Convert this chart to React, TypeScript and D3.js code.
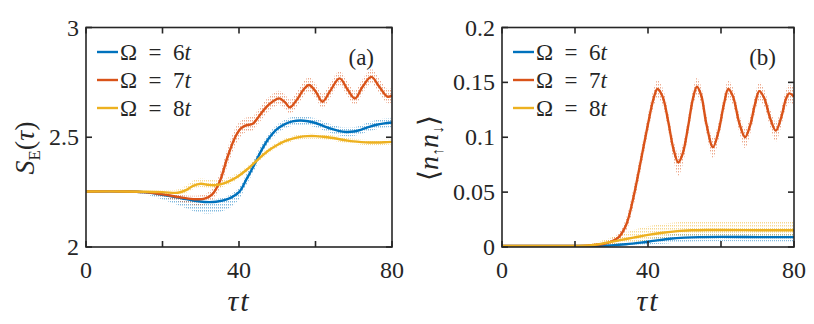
import React from "react";
import * as d3 from "d3";

const W = 814;
const H = 324;

const seriesNames = ["6", "7", "8"];
const seriesColors = ["#0072BD", "#D95319", "#EDB120"];

const xTicks = [0, 20, 40, 60, 80];
const xTickLabels = ["0", "", "40", "", "80"];
const yTicksA = [2, 2.5, 3];
const yTickLabelsA = ["2", "2.5", "3"];
const yTicksB = [0, 0.05, 0.1, 0.15, 0.2];
const yTickLabelsB = ["0", "0.05", "0.1", "0.15", "0.2"];

// [τt, mean, spread below, spread above]
const seOmega6: number[][] = [
  [0, 2.253, 0.002, 0.002], [10, 2.253, 0.003, 0.002], [15, 2.25, 0.008, 0.003],
  [20, 2.238, 0.022, 0.006], [25, 2.222, 0.038, 0.01], [28, 2.212, 0.048, 0.012],
  [31, 2.205, 0.052, 0.012], [34, 2.206, 0.05, 0.012], [37, 2.218, 0.045, 0.014],
  [40, 2.25, 0.032, 0.02], [42, 2.31, 0.025, 0.025], [44, 2.375, 0.025, 0.025],
  [46, 2.445, 0.025, 0.025], [48, 2.5, 0.022, 0.022], [50, 2.538, 0.02, 0.02],
  [52, 2.56, 0.02, 0.02], [54, 2.572, 0.02, 0.02], [56, 2.576, 0.02, 0.02],
  [58, 2.573, 0.02, 0.02], [60, 2.565, 0.02, 0.02], [62, 2.552, 0.02, 0.02],
  [64, 2.539, 0.02, 0.02], [66, 2.529, 0.02, 0.02], [68, 2.524, 0.02, 0.02],
  [70, 2.526, 0.02, 0.02], [72, 2.535, 0.02, 0.02], [74, 2.547, 0.02, 0.022],
  [76, 2.557, 0.02, 0.022], [78, 2.563, 0.02, 0.022], [80, 2.567, 0.02, 0.022],
];
const seOmega7: number[][] = [
  [0, 2.253, 0.002, 0.002], [10, 2.253, 0.003, 0.003], [15, 2.25, 0.006, 0.004],
  [20, 2.24, 0.012, 0.008], [24, 2.228, 0.02, 0.012], [28, 2.218, 0.025, 0.015],
  [31, 2.22, 0.028, 0.02], [33, 2.24, 0.03, 0.025], [35, 2.3, 0.035, 0.035],
  [37, 2.41, 0.04, 0.04], [39, 2.5, 0.04, 0.04], [40.5, 2.54, 0.035, 0.035],
  [42, 2.555, 0.03, 0.035], [43.5, 2.56, 0.03, 0.035], [45, 2.59, 0.03, 0.035],
  [47, 2.635, 0.03, 0.035], [49, 2.665, 0.03, 0.035], [50.5, 2.677, 0.03, 0.035],
  [52, 2.66, 0.03, 0.035], [53.3, 2.636, 0.03, 0.035], [55, 2.668, 0.03, 0.035],
  [57, 2.72, 0.03, 0.035], [58.3, 2.738, 0.03, 0.035], [60, 2.71, 0.03, 0.035],
  [61.8, 2.662, 0.03, 0.035], [63.8, 2.71, 0.03, 0.035], [66.3, 2.768, 0.03, 0.035],
  [68.3, 2.72, 0.03, 0.035], [70.3, 2.677, 0.03, 0.035], [72.3, 2.73, 0.03, 0.035],
  [74.6, 2.775, 0.03, 0.035], [76.7, 2.73, 0.03, 0.035], [78.8, 2.685, 0.03, 0.035],
  [80, 2.69, 0.03, 0.035],
];
const seOmega8: number[][] = [
  [0, 2.253, 0.002, 0.002], [10, 2.253, 0.003, 0.003], [20, 2.25, 0.006, 0.008],
  [24, 2.247, 0.01, 0.015], [26, 2.258, 0.012, 0.02], [28, 2.278, 0.015, 0.025],
  [30, 2.288, 0.015, 0.025], [32, 2.283, 0.015, 0.025], [34, 2.282, 0.015, 0.022],
  [36, 2.29, 0.015, 0.02], [38, 2.305, 0.015, 0.018], [40, 2.325, 0.012, 0.015],
  [42, 2.352, 0.012, 0.012], [44, 2.383, 0.012, 0.012], [46, 2.415, 0.012, 0.012],
  [48, 2.443, 0.012, 0.012], [50, 2.465, 0.012, 0.012], [52, 2.482, 0.012, 0.012],
  [54, 2.494, 0.012, 0.012], [56, 2.502, 0.012, 0.012], [58, 2.505, 0.012, 0.012],
  [60, 2.505, 0.012, 0.012], [62, 2.502, 0.012, 0.012], [64, 2.498, 0.012, 0.012],
  [66, 2.492, 0.012, 0.012], [68, 2.486, 0.012, 0.012], [70, 2.481, 0.012, 0.012],
  [72, 2.478, 0.012, 0.012], [74, 2.476, 0.012, 0.012], [76, 2.476, 0.012, 0.012],
  [78, 2.477, 0.012, 0.012], [80, 2.479, 0.012, 0.012],
];

const dOmega6: number[][] = [
  [0, 0.001, 0.0005, 0.0005], [26, 0.001, 0.0005, 0.0005], [30, 0.0015, 0.001, 0.001],
  [34, 0.0025, 0.0015, 0.0015], [38, 0.004, 0.002, 0.002], [42, 0.0058, 0.003, 0.003],
  [46, 0.0075, 0.004, 0.004], [50, 0.0085, 0.004, 0.004], [54, 0.009, 0.004, 0.004],
  [60, 0.0092, 0.004, 0.004], [70, 0.009, 0.004, 0.004], [80, 0.009, 0.004, 0.004],
];
const dOmega7: number[][] = [
  [0, 0.001, 0.0005, 0.0005], [20, 0.001, 0.0005, 0.0005], [24, 0.0015, 0.001, 0.001],
  [28, 0.003, 0.002, 0.002], [30, 0.005, 0.003, 0.003], [32, 0.009, 0.004, 0.004],
  [34, 0.02, 0.006, 0.006], [36, 0.045, 0.008, 0.008], [38, 0.078, 0.008, 0.008],
  [40, 0.112, 0.008, 0.008], [41.5, 0.135, 0.008, 0.008], [42.6, 0.144, 0.008, 0.008],
  [44, 0.137, 0.008, 0.008], [45.5, 0.115, 0.008, 0.008], [47, 0.089, 0.01, 0.008],
  [48.3, 0.077, 0.012, 0.008], [49.5, 0.085, 0.01, 0.008], [51, 0.11, 0.008, 0.008],
  [52.3, 0.135, 0.008, 0.008], [53.4, 0.146, 0.008, 0.008], [54.6, 0.138, 0.008, 0.008],
  [56, 0.112, 0.008, 0.008], [57.8, 0.091, 0.01, 0.008], [59.3, 0.105, 0.008, 0.008],
  [60.8, 0.13, 0.008, 0.008], [62, 0.144, 0.008, 0.008], [63.3, 0.137, 0.008, 0.008],
  [65, 0.113, 0.008, 0.008], [66.6, 0.1, 0.01, 0.008], [68, 0.111, 0.008, 0.008],
  [69.3, 0.13, 0.008, 0.008], [70.5, 0.142, 0.008, 0.008], [71.8, 0.136, 0.008, 0.008],
  [73.5, 0.117, 0.008, 0.008], [75, 0.106, 0.01, 0.008], [76.5, 0.118, 0.008, 0.008],
  [77.8, 0.135, 0.008, 0.008], [78.7, 0.14, 0.008, 0.008], [80, 0.137, 0.008, 0.008],
];
const dOmega8: number[][] = [
  [0, 0.001, 0.0005, 0.0005], [20, 0.001, 0.0005, 0.0005], [24, 0.0015, 0.001, 0.001],
  [28, 0.0035, 0.002, 0.003], [32, 0.006, 0.003, 0.005], [36, 0.0085, 0.004, 0.007],
  [40, 0.011, 0.005, 0.008], [44, 0.013, 0.005, 0.008], [48, 0.0145, 0.005, 0.008],
  [52, 0.0152, 0.005, 0.008], [56, 0.0155, 0.005, 0.008], [60, 0.0155, 0.005, 0.008],
  [70, 0.0153, 0.005, 0.008], [80, 0.0152, 0.005, 0.008],
];

const AXIS = "#262626";
const FONT = '"Liberation Serif"';

type PanelProps = {
  id: string;
  left: number;
  right: number;
  top: number;
  bottom: number;
  yDomain: [number, number];
  yTicks: number[];
  yTickLabels: string[];
  data: number[][][];
  tag: string;
  yLabel: React.ReactNode;
  yLabelX: number;
  yLabelY: number;
  legendX: number;
};

function Panel(p: PanelProps) {
  const x = d3.scaleLinear().domain([0, 80]).range([p.left, p.right]);
  const y = d3.scaleLinear().domain(p.yDomain).range([p.bottom, p.top]);
  const line = d3
    .line<number[]>()
    .x((d) => x(d[0]))
    .y((d) => y(d[1]))
    .curve(d3.curveCatmullRom.alpha(0.5));
  const area = d3
    .area<number[]>()
    .x((d) => x(d[0]))
    .y0((d) => y(d[1] - d[2]))
    .y1((d) => y(d[1] + d[3]))
    .curve(d3.curveCatmullRom.alpha(0.5));
  const tl = 6;
  const ts = { fontFamily: FONT };
  return (
    <g>
      <defs>
        <clipPath id={`clip-${p.id}`}>
          <rect x={p.left} y={p.top} width={p.right - p.left} height={p.bottom - p.top} />
        </clipPath>
        {seriesColors.map((c, i) => (
          <pattern key={i} id={`dots-${p.id}-${i}`} width={2} height={3} patternUnits="userSpaceOnUse">
            <rect x={0} y={0} width={1} height={1.5} fill={c} />
          </pattern>
        ))}
      </defs>
      <g clipPath={`url(#clip-${p.id})`}>
        {p.data.map((s, i) => (
          <path key={`b${i}`} d={area(s) || ""} fill={`url(#dots-${p.id}-${i})`} opacity={0.5} />
        ))}
        {p.data.map((s, i) => (
          <path key={`l${i}`} d={line(s) || ""} fill="none" stroke={seriesColors[i]} strokeWidth={2.4} />
        ))}
      </g>
      <rect x={p.left} y={p.top} width={p.right - p.left} height={p.bottom - p.top} fill="none" stroke={AXIS} strokeWidth={1.6} />
      {xTicks.map((t, i) => (
        <g key={`xt${i}`}>
          <line x1={x(t)} x2={x(t)} y1={p.bottom} y2={p.bottom - tl} stroke={AXIS} strokeWidth={1.6} />
          <line x1={x(t)} x2={x(t)} y1={p.top} y2={p.top + tl} stroke={AXIS} strokeWidth={1.6} />
          {xTickLabels[i] && (
            <text x={x(t)} y={278} textAnchor="middle" style={ts} fontSize={24} fill={AXIS}>
              {xTickLabels[i]}
            </text>
          )}
        </g>
      ))}
      {p.yTicks.map((t, i) => (
        <g key={`yt${i}`}>
          <line x1={p.left} x2={p.left + tl} y1={y(t)} y2={y(t)} stroke={AXIS} strokeWidth={1.6} />
          <line x1={p.right} x2={p.right - tl} y1={y(t)} y2={y(t)} stroke={AXIS} strokeWidth={1.6} />
          <text x={p.left - 7} y={y(t) + 8} textAnchor="end" style={ts} fontSize={24} fill={AXIS}>
            {p.yTickLabels[i]}
          </text>
        </g>
      ))}
      <text x={(p.left + p.right) / 2} y={311} textAnchor="middle" style={ts} fontSize={30} fontStyle="italic" fill={AXIS} letterSpacing={2}>
        τt
      </text>
      <text
        transform={`translate(${p.yLabelX},${p.yLabelY}) rotate(-90)`}
        textAnchor="middle"
        style={ts}
        fontSize={28}
        fill={AXIS}
      >
        {p.yLabel}
      </text>
      {seriesNames.map((n, i) => {
        const cy = 52 + i * 28;
        return (
          <g key={`lg${i}`}>
            <line x1={p.legendX} x2={p.legendX + 21} y1={cy} y2={cy} stroke={seriesColors[i]} strokeWidth={2.4} />
            <text x={p.legendX + 23} y={cy + 8} style={ts} fontSize={23} fill={AXIS}>
              {"Ω\u2002=\u2002" + n}
              <tspan fontStyle="italic">t</tspan>
            </text>
          </g>
        );
      })}
      <text x={p.right - 18} y={65} textAnchor="end" style={ts} fontSize={23} fill={AXIS}>
        {p.tag}
      </text>
    </g>
  );
}

export default function App() {
  return (
    <svg width={W} height={H} style={{ position: "absolute", left: 0, top: 0, background: "#fff" }}>
      <rect x={0} y={0} width={W} height={H} fill="#fff" />
      <Panel
        id="a"
        left={86}
        right={392}
        top={27.5}
        bottom={247}
        yDomain={[2, 3]}
        yTicks={yTicksA}
        yTickLabels={yTickLabelsA}
        data={[seOmega6, seOmega7, seOmega8]}
        tag="(a)"
        yLabelX={34}
        yLabelY={148}
        legendX={97}
        yLabel={
          <>
            <tspan fontStyle="italic">S</tspan>
            <tspan fontSize={17} dy={6}>E</tspan>
            <tspan dy={-6}>(</tspan>
            <tspan fontStyle="italic">τ</tspan>
            <tspan>)</tspan>
          </>
        }
      />
      <Panel
        id="b"
        left={502}
        right={794}
        top={27.5}
        bottom={247}
        yDomain={[0, 0.2]}
        yTicks={yTicksB}
        yTickLabels={yTickLabelsB}
        data={[dOmega6, dOmega7, dOmega8]}
        tag="(b)"
        yLabelX={438}
        yLabelY={148}
        legendX={513}
        yLabel={
          <>
            <tspan>⟨</tspan>
            <tspan fontStyle="italic">n</tspan>
            <tspan fontSize={16} dy={5}>↑</tspan>
            <tspan fontStyle="italic" dy={-5}>n</tspan>
            <tspan fontSize={16} dy={5}>↓</tspan>
            <tspan dy={-5}>⟩</tspan>
          </>
        }
      />
    </svg>
  );
}
